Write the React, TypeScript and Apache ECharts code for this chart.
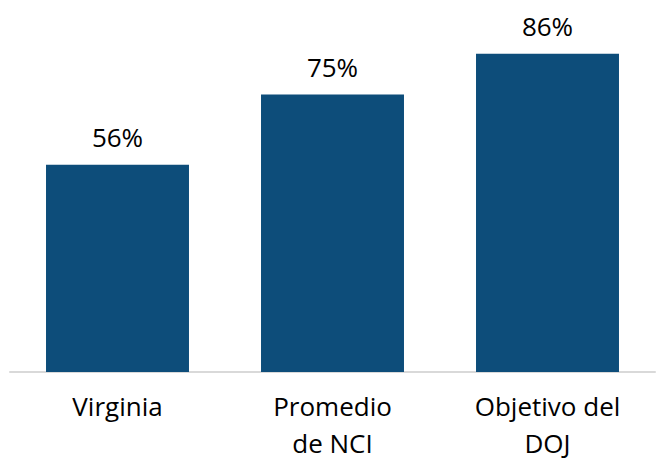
import React, { useEffect, useRef } from "react";
import * as echarts from "echarts";

const categories = ["Virginia", "Promedio\nde NCI", "Objetivo del\nDOJ"];
const values = [56, 75, 86];

export default function App() {
  const ref = useRef<HTMLDivElement>(null);
  useEffect(() => {
    const chart = echarts.init(ref.current!, null, { renderer: "svg" });
    chart.setOption({
      animation: false,
      backgroundColor: "#ffffff",
      grid: { left: 10, right: 3, top: 2, bottom: 90 },
      xAxis: {
        type: "category",
        data: categories,
        axisLine: { show: true, lineStyle: { color: "#d9d9d9", width: 2 } },
        axisTick: { show: false },
        axisLabel: {
          color: "#000000",
          fontFamily: "Open Sans",
          fontSize: 26,
          lineHeight: 37,
          margin: 15,
        },
      },
      yAxis: { type: "value", min: 0, max: 100, show: false, splitLine: { show: false } },
      series: [
        {
          type: "bar",
          data: values,
          barWidth: "66.5%",
          itemStyle: { color: "#0d4d7a" },
          label: {
            show: true,
            position: "top",
            distance: 15,
            formatter: "{c}%",
            color: "#000000",
            fontFamily: "Open Sans",
            fontSize: 26,
          },
        },
      ],
    });
    return () => chart.dispose();
  }, []);
  return (
    <div
      ref={ref}
      style={{ position: "fixed", left: 0, top: 0, width: 658, height: 462 }}
    />
  );
}
